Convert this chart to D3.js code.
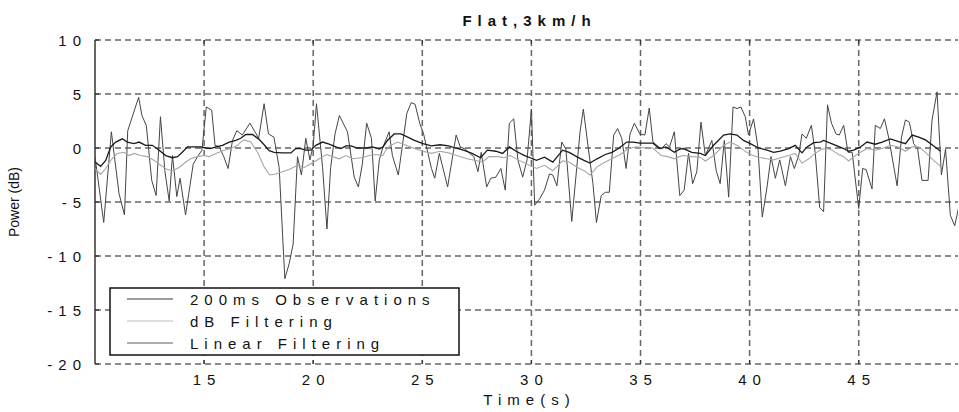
<!DOCTYPE html>
<html>
<head>
<meta charset="utf-8">
<script src="https://cdn.jsdelivr.net/npm/d3@7"></script>
<style>
  html, body { margin: 0; padding: 0; background: #fff; }
  svg { display: block; font-family: "Liberation Sans", Arial, sans-serif; }
</style>
</head>
<body>
<svg id="chart" width="959" height="412"></svg>
<script>
// ---- Data ----
const title = "Flat,3km/h";
const xLabel = "Time(s)";
const yLabel = "Power (dB)";
const xTicks = [15, 20, 25, 30, 35, 40, 45];
const yTicks = [-20, -15, -10, -5, 0, 5, 10];
const seriesNames = ["200ms Observations", "dB Filtering", "Linear Filtering"];

const obsTime = [10.0,10.4,10.75,11.1,11.35,11.5,12.0,12.15,12.35,12.6,12.8,13.0,13.2,13.4,13.55,13.75,13.9,14.15,14.3,14.5,14.7,14.9,15.1,15.35,15.5,15.7,15.9,16.1,16.3,16.5,16.75,17.1,17.5,17.75,17.95,18.2,18.44,18.7,18.9,19.08,19.28,19.46,19.66,19.85,20.0,20.15,20.43,20.63,20.8,21.0,21.2,21.57,21.88,22.07,22.25,22.45,22.67,22.84,23.03,23.2,23.48,23.63,23.9,24.29,24.49,24.67,24.88,25.06,25.26,25.42,25.57,25.78,26.16,26.55,26.74,26.97,27.17,27.36,27.55,27.7,27.95,28.14,28.37,28.6,28.8,28.99,29.19,29.38,29.6,29.8,30.0,30.15,30.38,30.6,30.83,30.98,31.17,31.39,31.58,31.85,32.23,32.38,32.6,32.82,32.98,33.2,33.39,33.57,33.77,33.95,34.14,34.34,34.52,34.72,34.97,35.2,35.4,35.57,35.95,36.17,36.33,36.55,36.8,37.0,37.2,37.39,37.58,37.77,37.97,38.27,38.47,38.65,38.84,39.04,39.24,39.42,39.6,39.8,39.95,40.18,40.38,40.58,40.8,40.98,41.18,41.38,41.64,41.87,42.05,42.25,42.4,42.6,42.83,43.01,43.21,43.39,43.57,43.75,43.96,44.11,44.31,44.51,44.7,45.0,45.18,45.34,45.61,45.76,45.99,46.18,46.38,46.76,46.96,47.14,47.32,47.52,47.7,47.9,48.18,48.36,48.59,48.79,48.98,49.2,49.4,49.6];
const obsPower = [-0.8,-6.9,1.5,-4.2,-6.2,1.6,4.7,3.0,2.1,-3.0,-4.4,2.9,-2.1,-4.9,-0.7,-4.5,-2.8,-6.2,-4.2,-1.5,-0.8,-0.2,3.8,3.5,0.25,0.1,-0.8,-1.9,0.7,1.6,1.2,2.3,0.9,4.1,1.3,1.0,-1.8,-12.1,-10.7,-8.9,-0.8,-2.5,0.9,-1.1,0.25,4.1,-1.8,-7.5,-1.8,1.3,3.0,1.5,-2.7,-3.6,-1.5,2.3,0.9,-4.9,-1.1,0.1,1.5,-0.7,-2.5,3.2,4.2,4.05,2.3,1.3,-0.5,-1.9,-2.8,-0.5,-3.6,1.2,0.1,-0.1,-0.5,-0.8,-2.2,-0.4,-3.6,-2.8,-2.7,-1.9,-3.9,2.3,2.7,-1.1,-2.7,-1.1,3.6,-5.3,-4.7,-3.9,-2.4,-2.5,-3.5,0.55,-0.1,-6.8,1.5,3.6,0.1,-3.3,-6.9,-4.4,-4.1,-4.1,1.2,1.8,0.9,-1.9,1.3,2.3,1.3,1.2,3.7,0.55,-0.1,0.4,0.1,1.5,-4.4,-3.9,-0.5,-3.3,-2.2,2.4,-0.7,0.7,-2.1,-3.3,0.7,-4.55,3.8,3.65,3.8,2.9,1.2,2.7,0.1,-6.4,-3.6,-0.8,-2.8,-1.1,-3.5,-0.8,-1.9,-0.7,1.3,0.9,2.1,-0.5,-5.5,-5.9,4.0,2.3,1.3,1.2,2.1,-0.4,-0.4,-5.6,-1.9,-2.0,-3.8,2.1,1.8,2.7,0.9,-3.5,1.0,2.6,2.4,0.4,-0.1,-3.0,-3.0,2.6,5.2,-2.5,-0.1,-6.25,-7.2,-5.3];

const dbTime = [10.0,10.26,10.49,10.72,11.02,11.33,11.56,11.79,12.09,12.4,12.71,13.01,13.32,13.55,13.85,14.16,14.39,14.69,15.0,15.23,15.54,15.92,16.22,16.53,16.68,16.83,17.14,17.45,17.75,18.01,18.29,18.59,18.9,19.28,19.59,19.89,20.28,20.61,20.89,21.19,21.5,21.8,22.19,22.57,22.87,23.18,23.3,23.5,23.87,24.25,24.64,25.03,25.42,25.81,26.2,26.58,27.05,27.44,27.75,28.06,28.45,28.76,29.04,29.38,29.77,30.0,30.23,30.6,30.98,31.43,31.73,32.11,32.41,32.68,33.01,33.39,33.69,34.07,34.44,34.82,35.2,35.57,35.95,36.25,36.55,36.78,36.97,37.35,37.74,37.97,38.35,38.81,39.11,39.42,39.72,40.03,40.41,40.8,41.1,41.41,41.79,42.09,42.4,42.71,43.01,43.3,43.55,43.78,44.08,44.31,44.54,44.77,45.08,45.38,45.76,46.07,46.45,46.83,47.14,47.45,47.75,48.06,48.36,48.75];
const dbPower = [-1.9,-2.45,-1.9,-1.15,-0.5,-0.4,-0.7,-0.5,-0.7,-0.8,-1.15,-1.6,-2.0,-2.1,-1.8,-1.3,-1.0,-0.8,-0.7,-0.8,-0.5,-0.2,-0.05,0.25,0.55,0.75,0.55,-0.4,-1.75,-2.5,-2.4,-2.2,-2.0,-1.6,-1.8,-1.45,-1.0,-0.6,-0.8,-1.0,-0.7,-1.0,-0.9,-0.7,-0.6,-0.7,-0.3,0.2,0.55,0.25,-0.05,-0.3,-0.5,-0.3,-0.45,-0.7,-1.0,-1.15,-1.3,-0.8,-0.8,-0.9,-0.7,-1.1,-1.45,-1.7,-1.9,-1.6,-2.1,-1.2,-1.3,-1.8,-2.1,-2.5,-1.75,-1.3,-1.0,-0.6,-0.05,0.1,0.0,0.0,-0.7,-0.8,-1.0,-0.8,-0.7,-0.8,-0.85,-1.2,-0.7,0.25,0.55,0.25,-0.2,-0.6,-0.85,-1.0,-1.1,-0.9,-0.7,-0.5,-1.4,-1.0,-0.5,-0.1,-0.05,-0.2,-0.6,-0.8,-1.2,-0.8,-0.4,-0.05,-0.2,-0.05,0.25,0.1,-0.3,0.1,0.1,-0.4,-1.0,-1.7];

const linTime = [10.0,10.26,10.49,10.72,10.95,11.25,11.48,11.79,12.02,12.32,12.63,12.94,13.24,13.55,13.78,14.0,14.24,14.54,14.85,15.08,15.3,15.54,15.84,16.15,16.45,16.68,16.91,17.22,17.52,17.75,17.98,18.21,18.59,18.98,19.2,19.43,19.66,19.89,20.12,20.43,20.73,21.04,21.27,21.5,21.73,22.03,22.42,22.72,23.03,23.2,23.4,23.71,24.02,24.33,24.64,25.03,25.42,25.81,26.2,26.51,26.89,27.28,27.67,27.98,28.37,28.68,28.99,29.3,29.69,30.0,30.23,30.6,30.98,31.43,31.73,32.11,32.41,32.68,33.01,33.39,33.69,33.99,34.37,34.67,34.97,35.27,35.57,35.87,36.17,36.55,36.8,36.97,37.35,37.74,37.97,38.35,38.81,39.11,39.42,39.72,40.03,40.41,40.8,41.1,41.41,41.79,42.09,42.4,42.63,42.94,43.24,43.39,43.7,44.01,44.31,44.54,44.77,45.08,45.38,45.76,46.07,46.45,46.83,47.14,47.45,47.75,48.06,48.36,48.75];
const linPower = [-1.3,-1.7,-1.15,0.1,0.55,0.85,0.55,0.4,0.55,0.25,0.25,-0.2,-0.7,-0.9,-0.8,-0.4,0.1,0.1,0.1,0.0,-0.05,0.1,0.25,0.55,0.7,0.9,1.25,1.25,0.8,0.3,-0.25,-0.4,-0.45,-0.45,-0.05,-0.05,-0.2,-0.2,0.25,0.55,0.35,0.1,-0.05,0.2,0.2,0.0,0.0,0.1,-0.1,0.1,0.7,1.3,1.3,1.0,0.7,0.4,0.2,0.3,0.2,0.0,-0.2,-0.5,-0.9,-0.2,-0.3,-0.5,0.1,-0.3,-0.7,-0.95,-1.15,-0.85,-1.3,-0.2,-0.4,-0.85,-1.15,-1.4,-1.0,-0.6,-0.4,-0.05,0.55,0.55,0.45,0.45,0.45,-0.05,0.1,-0.4,-0.1,-0.05,-0.4,-0.5,-0.7,0.25,1.2,1.3,1.2,0.7,0.4,0.0,-0.2,-0.4,-0.3,-0.05,0.25,-0.45,0.1,0.5,0.55,0.7,0.45,0.2,-0.05,-0.3,-0.2,0.1,0.55,0.35,0.55,0.85,0.6,0.4,1.2,1.0,0.75,0.3,-0.3];

// ---- Layout ----
const svg = d3.select("#chart");
const W = 959, H = 412;
const pL = 95, pR = 958, pT = 40, pB = 364;
const LS = 6; // letter spacing used by the original export

const x = d3.scaleLinear().domain([10, 49.55]).range([pL, pR]);
const y = d3.scaleLinear().domain([-20, 10]).range([pB, pT]);

svg.append("rect").attr("width", W).attr("height", H).attr("fill", "#fff");

const gridColor = "#666";
const dash = "6,4";

// horizontal grid (includes top and bottom frame lines)
svg.append("g").selectAll("line").data(yTicks).join("line")
  .attr("x1", pL).attr("x2", pR)
  .attr("y1", d => y(d)).attr("y2", d => y(d))
  .attr("stroke", gridColor).attr("stroke-width", 1.5)
  .attr("stroke-dasharray", dash);

// vertical grid
svg.append("g").selectAll("line").data(xTicks).join("line")
  .attr("x1", d => x(d)).attr("x2", d => x(d))
  .attr("y1", pT).attr("y2", pB)
  .attr("stroke", gridColor).attr("stroke-width", 1.5)
  .attr("stroke-dasharray", dash);

// tick marks (inside)
const tickG = svg.append("g").attr("stroke", "#333").attr("stroke-width", 1.2);
tickG.selectAll("line.tb").data(xTicks).join("line").attr("class", "tb")
  .attr("x1", d => x(d)).attr("x2", d => x(d)).attr("y1", pB).attr("y2", pB - 4);
tickG.selectAll("line.tt").data(xTicks).join("line").attr("class", "tt")
  .attr("x1", d => x(d)).attr("x2", d => x(d)).attr("y1", pT).attr("y2", pT + 4);
tickG.selectAll("line.tl").data(yTicks).join("line").attr("class", "tl")
  .attr("x1", pL).attr("x2", pL + 4).attr("y1", d => y(d)).attr("y2", d => y(d));

// left axis line
svg.append("line").attr("x1", pL).attr("x2", pL).attr("y1", pT).attr("y2", pB)
  .attr("stroke", "#333").attr("stroke-width", 1.5);

// tick labels
svg.append("g").selectAll("text").data(yTicks).join("text")
  .attr("x", pL - 14 + LS).attr("y", d => y(d) + 5.5)
  .attr("text-anchor", "end").attr("font-size", 15).attr("fill", "#111")
  .style("letter-spacing", LS + "px")
  .text(d => d);
svg.append("g").selectAll("text").data(xTicks).join("text")
  .attr("x", d => x(d) + LS / 2).attr("y", pB + 21)
  .attr("text-anchor", "middle").attr("font-size", 15).attr("fill", "#111")
  .style("letter-spacing", LS + "px")
  .text(d => d);

// axis titles
svg.append("text").attr("x", (pL + pR) / 2 + LS / 2).attr("y", 405)
  .attr("text-anchor", "middle").attr("font-size", 15).attr("fill", "#111")
  .style("letter-spacing", LS + "px").text(xLabel);
svg.append("text").attr("transform", `translate(19,${(pT + pB) / 2}) rotate(-90)`)
  .attr("text-anchor", "middle").attr("font-size", 14).attr("fill", "#111")
  .text(yLabel);
svg.append("text").attr("x", (pL + pR) / 2 + LS / 2).attr("y", 26)
  .attr("text-anchor", "middle").attr("font-size", 15).attr("font-weight", "bold")
  .attr("fill", "#111").style("letter-spacing", LS + "px").text(title);

// clip
svg.append("clipPath").attr("id", "plotclip").append("rect")
  .attr("x", pL).attr("y", pT).attr("width", pR - pL).attr("height", pB - pT);

const line = d3.line().x(d => x(d[0])).y(d => y(d[1]));
const plotG = svg.append("g").attr("clip-path", "url(#plotclip)");

const obs = obsTime.map((t, i) => [t, obsPower[i]]);
const dbF = dbTime.map((t, i) => [t, dbPower[i]]);
const linF = linTime.map((t, i) => [t, linPower[i]]);

plotG.append("path").datum(obs).attr("d", line).attr("fill", "none")
  .attr("stroke", "#454545").attr("stroke-width", 1);
plotG.append("path").datum(dbF).attr("d", line).attr("fill", "none")
  .attr("stroke", "#a6a6a6").attr("stroke-width", 1.1);
plotG.append("path").datum(linF).attr("d", line).attr("fill", "none")
  .attr("stroke", "#1a1a1a").attr("stroke-width", 1.3);

// legend
const lg = svg.append("g");
lg.append("rect").attr("x", 110).attr("y", 288).attr("width", 349).attr("height", 67)
  .attr("fill", "#fff").attr("stroke", "#111").attr("stroke-width", 1.5);
const legColors = ["#3a3a3a", "#bdbdbd", "#5f5f5f"];
const rowY = d3.scalePoint().domain(seriesNames).range([299, 343]);
seriesNames.forEach((name, i) => {
  lg.append("line").attr("x1", 127).attr("x2", 173)
    .attr("y1", rowY(name)).attr("y2", rowY(name))
    .attr("stroke", legColors[i]).attr("stroke-width", 1.2);
  lg.append("text").attr("x", 190).attr("y", rowY(name) + 5.5)
    .attr("font-size", 15).attr("fill", "#111")
    .style("letter-spacing", LS + "px").text(name);
});
</script>
</body>
</html>
